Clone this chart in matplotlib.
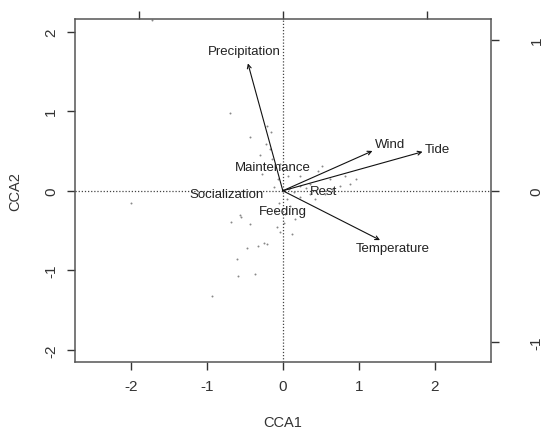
import matplotlib
matplotlib.use("Agg")
import matplotlib.pyplot as plt

plt.rcParams['font.family'] = ['Liberation Sans', 'DejaVu Sans']
plt.rcParams['axes.unicode_minus'] = False

# site scores (CCA1, CCA2)
site_x = [-0.70, -0.43, -0.21, -0.16, -0.22, -0.17, -0.14, -0.28, -0.07, 0.07,
          -0.04, 0.51, 0.22, 0.36, 0.62, 0.82, 0.97, 0.88, 0.75, 0.46,
          0.22, 0.05, 0.09, -0.68, -0.55, -0.43, -0.05, -0.09, -0.08, -0.04,
          -0.21, -0.33, -0.25, -0.47, -0.61, -0.59, -0.37, -0.57, 0.16, 0.03,
          0.12, 0.42, 0.55, 0.36, 0.22, -2.00, -0.93, -1.72, 0.08, 0.30,
          -0.30, 0.15, 0.65, -0.12, 0.02]
site_y = [0.98, 0.67, 0.81, 0.74, 0.59, 0.53, 0.40, 0.21, 0.15, 0.19,
          0.34, 0.31, 0.18, 0.09, 0.15, 0.18, 0.15, 0.09, 0.06, 0.25,
          0.06, -0.10, -0.19, -0.39, -0.33, -0.42, -0.16, -0.26, -0.45, -0.52,
          -0.67, -0.69, -0.65, -0.72, -0.86, -1.07, -1.04, -0.31, -0.35, -0.29,
          -0.54, -0.10, -0.04, -0.04, -0.08, -0.16, -1.32, 2.14, 0.02, 0.03,
          0.45, -0.02, 0.02, 0.05, -0.40]

# species centroids
species = ['Maintenance', 'Socialization', 'Feeding', 'Rest']
sp_x = [-0.13, -0.74, 0.00, 0.54]
sp_y = [0.30, -0.04, -0.26, 0.00]

# environmental vectors
env = ['Precipitation', 'Wind', 'Tide', 'Temperature']
env_x = [-0.46, 1.18, 1.84, 1.28]
env_y = [1.60, 0.50, 0.49, -0.62]
env_lab_x = [-0.51, 1.41, 2.04, 1.45]
env_lab_y = [1.75, 0.59, 0.53, -0.72]

fig = plt.figure(figsize=(5.46, 4.31), dpi=100)
ax = fig.add_axes([0.137, 0.158, 0.762, 0.796])
ax.set_xlim(-2.74, 2.74)
ax.set_ylim(-2.15, 2.16)

ax.axhline(0, color='#444444', lw=0.9, ls=(0, (1, 1.5)), zorder=1)
ax.axvline(0, color='#444444', lw=0.9, ls=(0, (1, 1.5)), zorder=1)

ax.scatter(site_x, site_y, s=2, color='#888888', zorder=2, linewidths=0)

for name, x, y in zip(species, sp_x, sp_y):
    ax.text(x, y, name, ha='center', va='center', fontsize=9.5, color='#222222', zorder=4)

for name, x, y, lx, ly in zip(env, env_x, env_y, env_lab_x, env_lab_y):
    ax.annotate('', xy=(x, y), xytext=(0, 0),
                arrowprops=dict(arrowstyle='->', lw=0.8, color='#111111',
                                shrinkA=0, shrinkB=0, mutation_scale=7), zorder=3)
    ax.text(lx, ly, name, ha='center', va='center', fontsize=9.5, color='#222222', zorder=4)

frame_col = '#555555'
for sp in ax.spines.values():
    sp.set_color(frame_col)
    sp.set_linewidth(1.1)

ax.set_xticks([-2, -1, 0, 1, 2])
ax.set_yticks([-2, -1, 0, 1, 2])
ax.tick_params(direction='out', length=6, width=1, color='#333333',
               labelsize=11, labelcolor='#333333', pad=6)
for lab in ax.get_yticklabels():
    lab.set_rotation(90)
    lab.set_va('center')
ax.set_xlabel('CCA1', fontsize=10.5, color='#333333', labelpad=16)
ax.set_ylabel('CCA2', fontsize=10.5, color='#333333', labelpad=16)

sec_scale = 1.9
top = ax.secondary_xaxis('top', functions=(lambda v: v / sec_scale, lambda v: v * sec_scale))
top.set_xticks([-1, 0, 1])
top.set_xticklabels([])
top.tick_params(direction='out', length=6, width=1, color='#333333')
top.spines['top'].set_visible(False)

right = ax.secondary_yaxis('right', functions=(lambda v: v / sec_scale, lambda v: v * sec_scale))
right.set_yticks([-1, 0, 1])
right.tick_params(direction='out', length=6, width=1, color='#333333',
                  labelsize=11, labelcolor='#333333', pad=22)
right.spines['right'].set_visible(False)
for lab in right.get_yticklabels():
    lab.set_rotation(90)
    lab.set_va('center')

fig.savefig('out.png', dpi=100)
